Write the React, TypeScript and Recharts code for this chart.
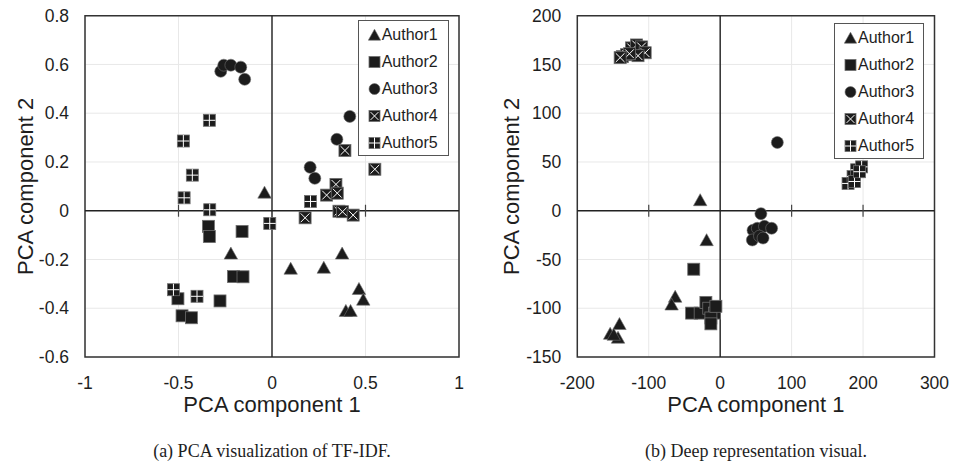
import React from 'react';
import {
  ScatterChart,
  Scatter,
  XAxis,
  YAxis,
  CartesianGrid,
  ReferenceLine,
  ReferenceArea,
  Legend,
} from 'recharts';

type Pt = { x: number; y: number };
type Kind = 'triangle' | 'square' | 'circle' | 'boxX' | 'boxPlus';

const authorNames = ['Author1', 'Author2', 'Author3', 'Author4', 'Author5'];
const markerKinds: Kind[] = ['triangle', 'square', 'circle', 'boxX', 'boxPlus'];

// (a) PCA of TF-IDF features
const tfidfAuthor1: Pt[] = [
  { x: -0.04, y: 0.075 }, { x: -0.22, y: -0.175 }, { x: 0.375, y: -0.175 },
  { x: 0.1, y: -0.237 }, { x: 0.277, y: -0.233 }, { x: 0.465, y: -0.32 },
  { x: 0.488, y: -0.364 }, { x: 0.395, y: -0.41 }, { x: 0.42, y: -0.41 },
];
const tfidfAuthor2: Pt[] = [
  { x: -0.34, y: -0.064 }, { x: -0.335, y: -0.106 }, { x: -0.16, y: -0.085 },
  { x: -0.206, y: -0.27 }, { x: -0.155, y: -0.271 }, { x: -0.503, y: -0.361 },
  { x: -0.278, y: -0.37 }, { x: -0.481, y: -0.431 }, { x: -0.431, y: -0.439 },
];
const tfidfAuthor3: Pt[] = [
  { x: -0.274, y: 0.572 }, { x: -0.258, y: 0.597 }, { x: -0.22, y: 0.597 },
  { x: -0.167, y: 0.589 }, { x: -0.146, y: 0.539 }, { x: 0.416, y: 0.387 },
  { x: 0.347, y: 0.293 }, { x: 0.204, y: 0.178 }, { x: 0.229, y: 0.133 },
];
const tfidfAuthor4: Pt[] = [
  { x: 0.39, y: 0.247 }, { x: 0.55, y: 0.17 }, { x: 0.342, y: 0.108 },
  { x: 0.292, y: 0.064 }, { x: 0.349, y: 0.072 }, { x: 0.358, y: -0.002 },
  { x: 0.377, y: -0.004 }, { x: 0.434, y: -0.018 }, { x: 0.177, y: -0.029 },
];
const tfidfAuthor5: Pt[] = [
  { x: -0.335, y: 0.371 }, { x: -0.474, y: 0.286 }, { x: -0.426, y: 0.146 },
  { x: -0.47, y: 0.053 }, { x: -0.333, y: 0.004 }, { x: -0.012, y: -0.052 },
  { x: -0.527, y: -0.324 }, { x: -0.401, y: -0.351 }, { x: 0.206, y: 0.038 },
];
const tfidfXTicks = [-1, -0.5, 0, 0.5, 1];
const tfidfYTicks = [-0.6, -0.4, -0.2, 0, 0.2, 0.4, 0.6, 0.8];

// (b) PCA of the learned deep representation
const deepAuthor1: Pt[] = [
  { x: -28, y: 11 }, { x: -19, y: -30 }, { x: -63, y: -88 }, { x: -68, y: -96 },
  { x: -141, y: -116 }, { x: -154, y: -126 }, { x: -143, y: -130 }, { x: -149, y: -127 },
];
const deepAuthor2: Pt[] = [
  { x: -37, y: -60 }, { x: -40, y: -105 }, { x: -28, y: -105 }, { x: -20, y: -94 },
  { x: -16, y: -100 }, { x: -8, y: -105 }, { x: -13, y: -110 }, { x: -13, y: -116 },
  { x: -6, y: -98 },
];
const deepAuthor3: Pt[] = [
  { x: 80, y: 70 }, { x: 57, y: -3 }, { x: 46, y: -20 }, { x: 52, y: -18 },
  { x: 62, y: -16 }, { x: 72, y: -18 }, { x: 45, y: -30 }, { x: 55, y: -26 },
  { x: 60, y: -28 },
];
const deepAuthor4: Pt[] = [
  { x: -137, y: 158 }, { x: -131, y: 160 }, { x: -124, y: 167 }, { x: -117, y: 170 },
  { x: -110, y: 168 }, { x: -105, y: 162 }, { x: -115, y: 159 }, { x: -127, y: 161 },
  { x: -140, y: 157 },
];
const deepAuthor5: Pt[] = [
  { x: 179, y: 28 }, { x: 186, y: 35 }, { x: 191, y: 42 },
  { x: 198, y: 45 }, { x: 188, y: 30 }, { x: 195, y: 40 },
];
const deepXTicks = [-200, -100, 0, 100, 200, 300];
const deepYTicks = [-150, -100, -50, 0, 50, 100, 150, 200];

const SANS = '"Liberation Sans", Arial, sans-serif';
const SERIF = '"Liberation Serif", "Times New Roman", serif';
const INK = '#1e1e1e';

function Marker({ kind, cx, cy, size = 12 }: { kind: Kind; cx: number; cy: number; size?: number }) {
  const h = size / 2;
  const fill = '#1c1c1c';
  const stroke = '#6e6e6e';
  if (kind === 'triangle') {
    const w = h * 1.12;
    const pts = `${cx},${cy - h * 1.05} ${cx - w},${cy + h * 0.95} ${cx + w},${cy + h * 0.95}`;
    return <polygon points={pts} fill={fill} stroke={stroke} strokeWidth={0.6} />;
  }
  if (kind === 'circle') {
    return <circle cx={cx} cy={cy} r={h} fill={fill} stroke={stroke} strokeWidth={0.6} />;
  }
  const rect = (
    <rect x={cx - h} y={cy - h} width={size} height={size} fill={fill} stroke={stroke} strokeWidth={0.8} />
  );
  if (kind === 'square') return rect;
  const i = h - 1.6;
  if (kind === 'boxX') {
    return (
      <g>
        {rect}
        <line x1={cx - i} y1={cy - i} x2={cx + i} y2={cy + i} stroke="#fff" strokeWidth={1} />
        <line x1={cx - i} y1={cy + i} x2={cx + i} y2={cy - i} stroke="#fff" strokeWidth={1} />
      </g>
    );
  }
  return (
    <g>
      {rect}
      <line x1={cx - h} y1={cy} x2={cx + h} y2={cy} stroke="#fff" strokeWidth={1} />
      <line x1={cx} y1={cy - h} x2={cx} y2={cy + h} stroke="#fff" strokeWidth={1} />
    </g>
  );
}

const LegendBox = (props: any) => {
  const payload: any[] = props.payload || [];
  return (
    <div
      style={{
        border: '1px solid #555',
        background: '#fff',
        boxSizing: 'border-box',
        width: '100%',
        height: '100%',
        paddingLeft: 9,
      }}
    >
      {payload.map((entry: any, idx: number) => {
        const k = authorNames.indexOf(entry.value);
        return (
          <div key={idx} style={{ display: 'flex', alignItems: 'center', height: 27 }}>
            <svg width={13} height={14} style={{ display: 'block' }}>
              <Marker kind={markerKinds[k < 0 ? idx : k]} cx={6.5} cy={7} size={11} />
            </svg>
            <span style={{ fontFamily: SANS, fontSize: 16, color: INK, marginLeft: 1, lineHeight: '16px' }}>
              {entry.value}
            </span>
          </div>
        );
      })}
    </div>
  );
};

const XTitle = (props: any) => {
  const vb = props.viewBox || {};
  return (
    <text x={vb.x + vb.width / 2} y={vb.y + 55} textAnchor="middle" fontFamily={SANS} fontSize={22} fill={INK}>
      {props.text}
    </text>
  );
};

const YTitle = (props: any) => {
  const vb = props.viewBox || {};
  const x = vb.x + props.dx;
  const y = vb.y + vb.height / 2;
  return (
    <text
      x={x}
      y={y}
      transform={`rotate(-90, ${x}, ${y})`}
      textAnchor="middle"
      fontFamily={SANS}
      fontSize={22}
      fill={INK}
    >
      {props.text}
    </text>
  );
};

const tickMarkShape = (p: any) => (
  <line x1={p.x1} x2={p.x1} y1={p.y1 - 6} y2={p.y1 + 6} stroke="#444" strokeWidth={1.2} />
);

type PanelProps = {
  series: Pt[][];
  xTicks: number[];
  yTicks: number[];
  width: number;
  yAxisWidth: number;
  rightMargin: number;
  yTitleDx: number;
  legendPos: { left: number; top: number; width: number; height: number };
};

function Panel({ series, xTicks, yTicks, width, yAxisWidth, rightMargin, yTitleDx, legendPos }: PanelProps) {
  const xMin = xTicks[0];
  const xMax = xTicks[xTicks.length - 1];
  const yMin = yTicks[0];
  const yMax = yTicks[yTicks.length - 1];
  const innerTicks = xTicks.filter((t) => t !== 0 && t !== xMin && t !== xMax);
  const tickStyle = { fill: INK, fontSize: 17.5, fontFamily: SANS };
  return (
    <ScatterChart width={width} height={430} margin={{ top: 15.7, right: rightMargin, bottom: 13, left: 0 }}>
      <CartesianGrid stroke="#e8e8e8" strokeWidth={1} />
      <XAxis
        type="number"
        dataKey="x"
        domain={[xMin, xMax]}
        ticks={xTicks}
        interval={0}
        tickLine={false}
        axisLine={false}
        tickSize={0}
        tickMargin={20}
        tick={tickStyle}
        height={60}
        label={<XTitle text="PCA component 1" />}
      />
      <YAxis
        type="number"
        dataKey="y"
        domain={[yMin, yMax]}
        ticks={yTicks}
        interval={0}
        tickLine={false}
        axisLine={false}
        tickSize={0}
        tickMargin={16}
        tick={tickStyle}
        width={yAxisWidth}
        label={<YTitle text="PCA component 2" dx={yTitleDx} />}
      />
      <ReferenceArea x1={xMin} x2={xMax} y1={yMin} y2={yMax} fill="none" fillOpacity={0} stroke="#333" strokeWidth={1.5} />
      <ReferenceLine x={0} stroke="#222" strokeWidth={1.4} />
      <ReferenceLine y={0} stroke="#222" strokeWidth={1.4} />
      {innerTicks.map((t) => (
        <ReferenceLine key={t} segment={[{ x: t, y: 0 }, { x: t, y: 0 }]} shape={tickMarkShape} />
      ))}
      {series.map((data, i) => (
        <Scatter
          key={authorNames[i]}
          name={authorNames[i]}
          data={data}
          fill="#1c1c1c"
          isAnimationActive={false}
          shape={(p: any) => <Marker kind={markerKinds[i]} cx={p.cx} cy={p.cy} />}
        />
      ))}
      <Legend
        layout="vertical"
        align="center"
        verticalAlign="middle"
        content={<LegendBox />}
        wrapperStyle={{ ...legendPos, position: 'absolute' }}
      />
    </ScatterChart>
  );
}

export default function App() {
  return (
    <div style={{ position: 'absolute', left: 0, top: 0, width: 953, height: 470, background: '#fff', overflow: 'hidden' }}>
      <div style={{ position: 'absolute', left: 0, top: 0 }}>
        <Panel
          series={[tfidfAuthor1, tfidfAuthor2, tfidfAuthor3, tfidfAuthor4, tfidfAuthor5]}
          xTicks={tfidfXTicks}
          yTicks={tfidfYTicks}
          width={480}
          yAxisWidth={85}
          rightMargin={21}
          yTitleDx={33}
          legendPos={{ left: 357.7, top: 20, width: 91, height: 136 }}
        />
      </div>
      <div style={{ position: 'absolute', left: 480, top: 0 }}>
        <Panel
          series={[deepAuthor1, deepAuthor2, deepAuthor3, deepAuthor4, deepAuthor5]}
          xTicks={deepXTicks}
          yTicks={deepYTicks}
          width={473}
          yAxisWidth={97.3}
          rightMargin={18.5}
          yTitleDx={39}
          legendPos={{ left: 354, top: 23.3, width: 90, height: 136 }}
        />
      </div>
      <div
        style={{
          position: 'absolute', left: 122, width: 300, top: 440, textAlign: 'center',
          fontFamily: SERIF, fontSize: 18, lineHeight: '22px', color: INK,
        }}
      >
        (a) PCA visualization of TF-IDF.
      </div>
      <div
        style={{
          position: 'absolute', left: 606, width: 300, top: 440, textAlign: 'center',
          fontFamily: SERIF, fontSize: 18, lineHeight: '22px', color: INK,
        }}
      >
        (b) Deep representation visual.
      </div>
    </div>
  );
}
